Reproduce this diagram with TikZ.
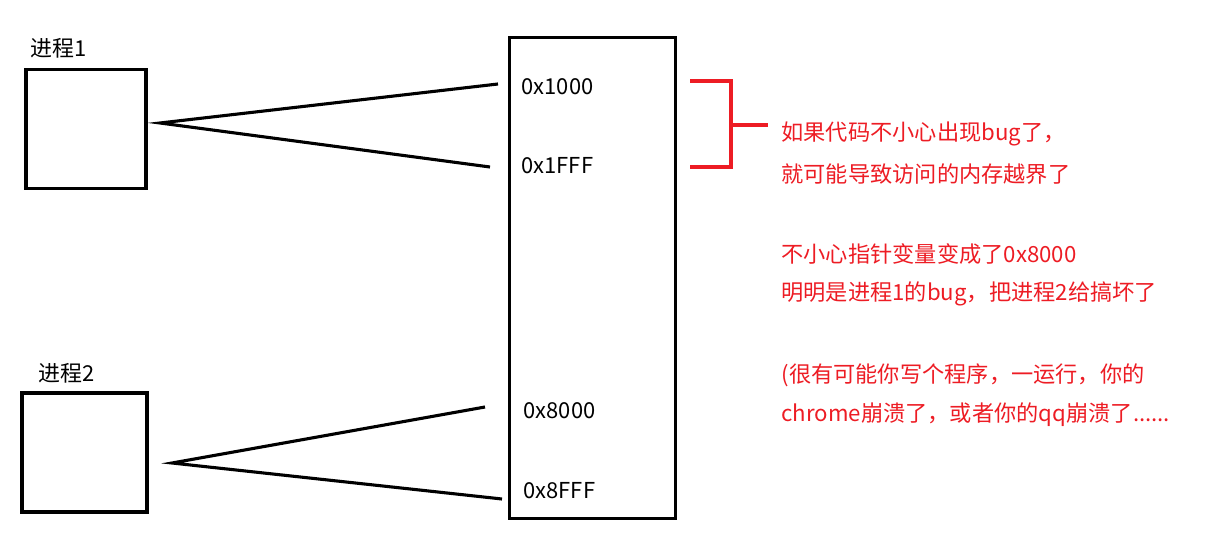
\documentclass[tikz,border=0pt]{standalone}
\usepackage{fontspec}
\setmainfont{Noto Sans CJK SC}
\usepackage{xcolor}
\usepackage{tikz}

\definecolor{paintred}{RGB}{237,28,36}
\newcommand{\sixdots}{......}

\begin{document}
\begin{tikzpicture}
  [
    x=0.025cm, y=-0.025cm,
    line width=2.2pt,
    box/.style   = {draw, inner sep=0pt, line width=2.2pt},
    lbl/.style   = {anchor=west, inner sep=0pt, font=\fontsize{15.6}{18}\selectfont},
    note/.style  = {lbl, text=paintred, font=\fontsize{15.8}{18}\selectfont},
  ]

\useasboundingbox (0,0) rectangle (1224,557);

%The two processes
\node[box, minimum width=3cm, minimum height=2.975cm] (proc1) at (86,129) {};
\node[box, minimum width=3.125cm, minimum height=2.975cm] (proc2) at (84.5,452.5) {};
\node[lbl] (name1) at (29,48) {进程1};
\node[lbl] (name2) at (37,373) {进程2};

%Memory column
\node[box, minimum width=4.15cm, minimum height=12cm] (mem) at (592.5,278) {};

%Address labels
\foreach \n/\x/\y/\t in {a/520/87/0x1000, b/520/166/0x1FFF, c/522/411/0x8000, d/522/491/0x8FFF}
{
\node[lbl] (addr\n) at (\x,\y) {\t};
}

%Mapping lines
\coordinate (apex1) at (160,123);
\coordinate (top1) at (498,84);
\coordinate (bot1) at (490,167);
\coordinate (apex2) at (172,463);
\coordinate (top2) at (485,407);
\coordinate (bot2) at (502,499);
\draw (top1) -- (apex1) -- (bot1);
\draw (top2) -- (apex2) -- (bot2);

%Red bracket
\coordinate (brA) at (690,81);
\coordinate (brB) at (731,81);
\coordinate (brC) at (731,167);
\coordinate (brD) at (690,167);
\coordinate (brM) at (731,125);
\coordinate (brE) at (768,125);
\draw[paintred] (brA) -- (brB) -- (brC) -- (brD);
\draw[paintred] (brM) -- (brE);

%Notes
\foreach [count=\i] \y/\t in {134/如果代码不小心出现bug了，,
                              174/就可能导致访问的内存越界了,
                              254/不小心指针变量变成了0x8000,
                              294/明明是进程1的bug，把进程2给搞坏了,
                              375/(很有可能你写个程序，一运行，你的,
                              415/chrome崩溃了，或者你的qq崩溃了\sixdots}
{
\node[note] (note\i) at (780,\y) {\t};
}
\end{tikzpicture}
\end{document}
